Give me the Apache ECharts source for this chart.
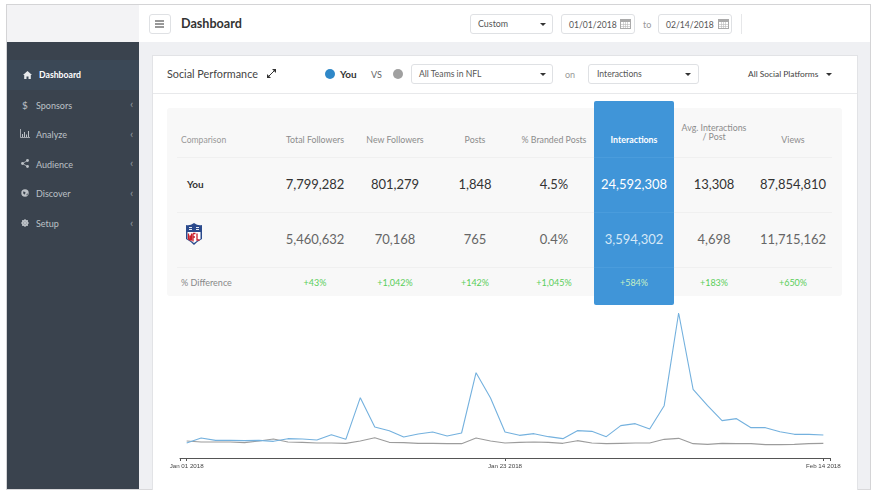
<!DOCTYPE html>
<html>
<head>
<meta charset="utf-8">
<title>Dashboard</title>
<script src="https://cdn.jsdelivr.net/npm/echarts@6/dist/echarts.min.js"></script>
<style>
html,body{margin:0;padding:0;background:#fff;width:877px;height:497px;overflow:hidden;font-family:Lato,"Open Sans",sans-serif}
.box,.t{position:absolute;box-sizing:border-box}
.t{white-space:nowrap;line-height:1;transform:translateY(-50%)}
.c{transform:translate(-50%,-50%);text-align:center}
.ctl{background:#fff;border:1px solid #dfe1e4;border-radius:3px}
.caret{position:absolute;width:0;height:0;border-left:3px solid transparent;border-right:3px solid transparent;border-top:3px solid #333}
svg{position:absolute}
</style>
</head>
<body>
<div id="page"></div>
<div id="chart" class="box" style="left:152px;top:306px;width:706px;height:184px"></div>
<script>
// table
var columns = ['Total Followers','New Followers','Posts','% Branded Posts','Interactions','Avg. Interactions<br>/ Post','Views']
var youRow = ['7,799,282','801,279','1,848','4.5%','24,592,308','13,308','87,854,810']
var nflRow = ['5,460,632','70,168','765','0.4%','3,594,302','4,698','11,715,162']
var diffRow = ['+43%','+1,042%','+142%','+1,045%','+584%','+183%','+650%']
var menuItems = ['Dashboard','Sponsors','Analyze','Audience','Discover','Setup']

// chart, one value per day from Jan 01 to Feb 14 (no y axis so units are relative)
var youValues = [45,60,53,53,52,53,50,58,57,54,70,56,181,93,82,63,72,78,66,75,256,180,78,68,73,64,58,82,80,64,97,103,87,157,435,206,157,112,118,91,91,79,71,71,69]
var teamValues = [51,48,48,48,46,51,57,48,47,45,45,44,51,61,47,46,44,44,43,43,60,51,45,47,48,47,44,52,45,43,44,45,45,56,59,43,41,44,43,43,40,40,41,43,44]
var tickDays = [0,22,44]
var tickLabels = ['Jan 01 2018','Jan 23 2018','Feb 14 2018']

var colX = [315,395,475,554,634,714,793]
var page = document.getElementById('page')

function box(x,y,w,h,css){
  var d = document.createElement('div')
  d.className = 'box'
  d.style.cssText = 'left:'+x+'px;top:'+y+'px;width:'+w+'px;height:'+h+'px;'+(css||'')
  page.appendChild(d)
  return d
}
function text(x,y,s,size,color,weight,center){
  var d = document.createElement('div')
  d.className = center ? 't c' : 't'
  d.style.cssText = 'left:'+x+'px;top:'+y+'px;font-size:'+size+'px;color:'+color+';font-weight:'+(weight||400)
  d.innerHTML = s
  page.appendChild(d)
}
function caret(x,y){
  var d = box(x,y,0,0)
  d.className = 'caret'
}
function control(x,y,w,h){
  var d = box(x,y,w,h)
  d.className = 'box ctl'
}
function svg(x,y,w,h,inner){
  page.insertAdjacentHTML('beforeend','<svg style="left:'+x+'px;top:'+y+'px" width="'+w+'" height="'+h+'" viewBox="0 0 '+w+' '+h+'">'+inner+'</svg>')
}
function calendar(x,y){
  svg(x,y,11,11,'<rect x="0.5" y="1.5" width="10" height="9" fill="none" stroke="#aaa"/><rect x="0.5" y="1.5" width="10" height="2.5" fill="#aaa"/><path d="M1 6.5h9M1 8.5h9M3.5 4v6M5.5 4v6M7.5 4v6" stroke="#bbb" stroke-width=".6"/>')
}

// frame
box(6,4,865,486,'background:#eff0f3;border:1px solid #d4d4d6;border-bottom:1px solid #d9d9db')
box(7,5,132,37,'background:#f3f3f5')
box(139,5,731,37,'background:#fff')
box(7,42,132,447,'background:#3a434e')
box(7,60,132,30,'background:#3b4856')

// top bar
control(149,14,22,20)
svg(155,20,10,8,'<path d="M0 1h9M0 4h9M0 7h9" stroke="#333" stroke-width="1.2"/>')
text(181,24,'Dashboard',12.6,'#333',700)
control(470,14,83,20)
text(478,24,'Custom',8.9,'#555')
caret(540,23)
control(561,14,74,20)
text(569,24.5,'01/01/2018',8.6,'#555')
calendar(620,18)
text(643,23.5,'to',9,'#999')
control(658,14,74,20)
text(666,24.5,'02/14/2018',8.6,'#555')
calendar(718,18)
box(741,14,1,20,'background:#e6e7e9')

// sidebar
var menuY = [75,104.5,134,163.5,193,223]
menuItems.forEach(function(m,i){
  text(i===0?39:36,menuY[i],m,i===0?8.7:9,i===0?'#fff':'#bcc1c6',i===0?700:400)
  if(i>0) text(130,menuY[i]-0.5,'‹',12,'#8e959c')
})
svg(23,71,9,8,'<path d="M0 4L4.5 0L9 4H7.8V8H5.5V5.5H3.5V8H1.2V4Z" fill="#e8eaec"/>')
text(22,104.5,'$',10,'#bcc1c6')
svg(20,129,10,9,'<path d="M0.5 0V8.5H10" stroke="#bcc1c6" fill="none" stroke-width=".8"/><path d="M2.5 8V5M4.5 8V3M6.5 8V5.5M8.5 8V2" stroke="#bcc1c6"/>')
svg(21,159,8,9,'<circle cx="1.5" cy="4.5" r="1.4" fill="#bcc1c6"/><circle cx="6.5" cy="1.5" r="1.4" fill="#bcc1c6"/><circle cx="6.5" cy="7.5" r="1.4" fill="#bcc1c6"/><path d="M1.5 4.5L6.5 1.5M1.5 4.5L6.5 7.5" stroke="#bcc1c6" stroke-width=".8"/>')
svg(21,189,8,8,'<circle cx="4" cy="4" r="3.7" fill="#bcc1c6"/><path d="M2 2.5L4.5 3L4 5.5L2.5 5ZM5.5 5L7 4.5L6 7Z" fill="#3a434e"/>')
svg(21,219,8,8,'<circle cx="4" cy="4" r="2.4" fill="none" stroke="#bcc1c6" stroke-width="1.6"/><path d="M4 0V8M0 4H8M1.2 1.2L6.8 6.8M6.8 1.2L1.2 6.8" stroke="#bcc1c6" stroke-width="1"/>')

// card
box(152,55,706,435,'background:#fff;border:1px solid #e2e3e6;border-bottom:none')
box(153,93,704,1,'background:#e8e9eb')
text(167,73.5,'Social Performance',10.8,'#444')
svg(267,69,9,9,'<path d="M1 8L8 1" stroke="#333"/><path d="M0 9V5L4 9ZM9 0V4L5 0Z" fill="#333"/>')
svg(325,69,10,10,'<circle cx="5" cy="5" r="5" fill="#2f88c8"/>')
text(340,73.5,'You',10,'#333',700)
text(371,74,'VS',9,'#666')
svg(393,69,10,10,'<circle cx="5" cy="5" r="5" fill="#a0a0a0"/>')
control(411,64,142,20)
text(419,74,'All Teams in NFL',8.6,'#555')
caret(540,73)
text(565,74,'on',9,'#999')
control(588,64,111,20)
text(597,74,'Interactions',8.6,'#555')
caret(685,73)
text(748,73.5,'All Social Platforms',8.4,'#444')
caret(826,73)

// table
box(167,108,675,188,'background:#f8f8f8;border-radius:3px')
;[157,212,267].forEach(function(y){ box(177,y,655,1,'background:#f0f0f0') })
box(594,101,80,204,'background:#4095d8;border-radius:2px')
;[157,212,267].forEach(function(y){ box(594,y,80,1,'background:#4a9cdc') })
text(181,139.5,'Comparison',8.6,'#999')
text(187,184,'You',10,'#333',700)
text(181,282,'% Difference',9,'#888')
columns.forEach(function(c,i){
  var hi = i===4
  text(colX[i],i===5?133:139.5,c,8.8,hi?'#fff':'#8c8c8c',hi?700:400,true)
  text(colX[i],184,youRow[i],13,hi?'#fff':'#333',400,true)
  text(colX[i],239,nflRow[i],13,hi?'#d5e8f7':'#666',400,true)
  text(colX[i],282,diffRow[i],9,hi?'#c5f0c5':'#5ace5a',400,true)
})
// NFL shield
svg(185,223,18,22,'<path d="M1 2Q5 3 9 0Q13 3 17 2V16Q13 18 9 22Q5 18 1 16Z" fill="#2b4a8c"/><path d="M2.5 9H15.5V16Q12 17.5 9 20Q6 17.5 2.5 16Z" fill="#fff"/><path d="M3.5 10.5V16L5 16.8V12.5L6.5 17.5V10.5M8 10.5V18.5M8 10.5H10.5M8 14H10M12 10.5V17H14.5" fill="none" stroke="#c8202c" stroke-width="1.3"/><path d="M4 4.5h3M4 6.5h3M11 4.5h3M11 6.5h3" stroke="#fff" stroke-width=".9"/>')

// line chart
var chart = echarts.init(document.getElementById('chart'))
chart.setOption({
  animation:false,
  grid:{left:28,right:28,top:7,bottom:32},
  xAxis:{
    type:'value',
    min:-0.46,
    max:44.46,
    splitLine:{show:false},
    axisLine:{onZero:false,lineStyle:{color:'#555',width:1}},
    axisTick:{length:3,lineStyle:{color:'#555'},customValues:[-0.46].concat(tickDays,[44.46])},
    axisLabel:{
      customValues:tickDays,
      margin:5,
      fontSize:6.2,
      fontFamily:'Liberation Sans',
      color:'#444',
      hideOverlap:false,
      formatter:function(v){ return tickLabels[tickDays.indexOf(v)] }
    }
  },
  yAxis:{type:'value',min:0,max:435,show:false},
  series:[
    {type:'line',data:teamValues.map(function(v,i){return [i,v]}),showSymbol:false,lineStyle:{color:'#9c9c9c',width:1.1}},
    {type:'line',data:youValues.map(function(v,i){return [i,v]}),showSymbol:false,lineStyle:{color:'#74b1de',width:1.1}}
  ]
})
</script>
</body>
</html>
